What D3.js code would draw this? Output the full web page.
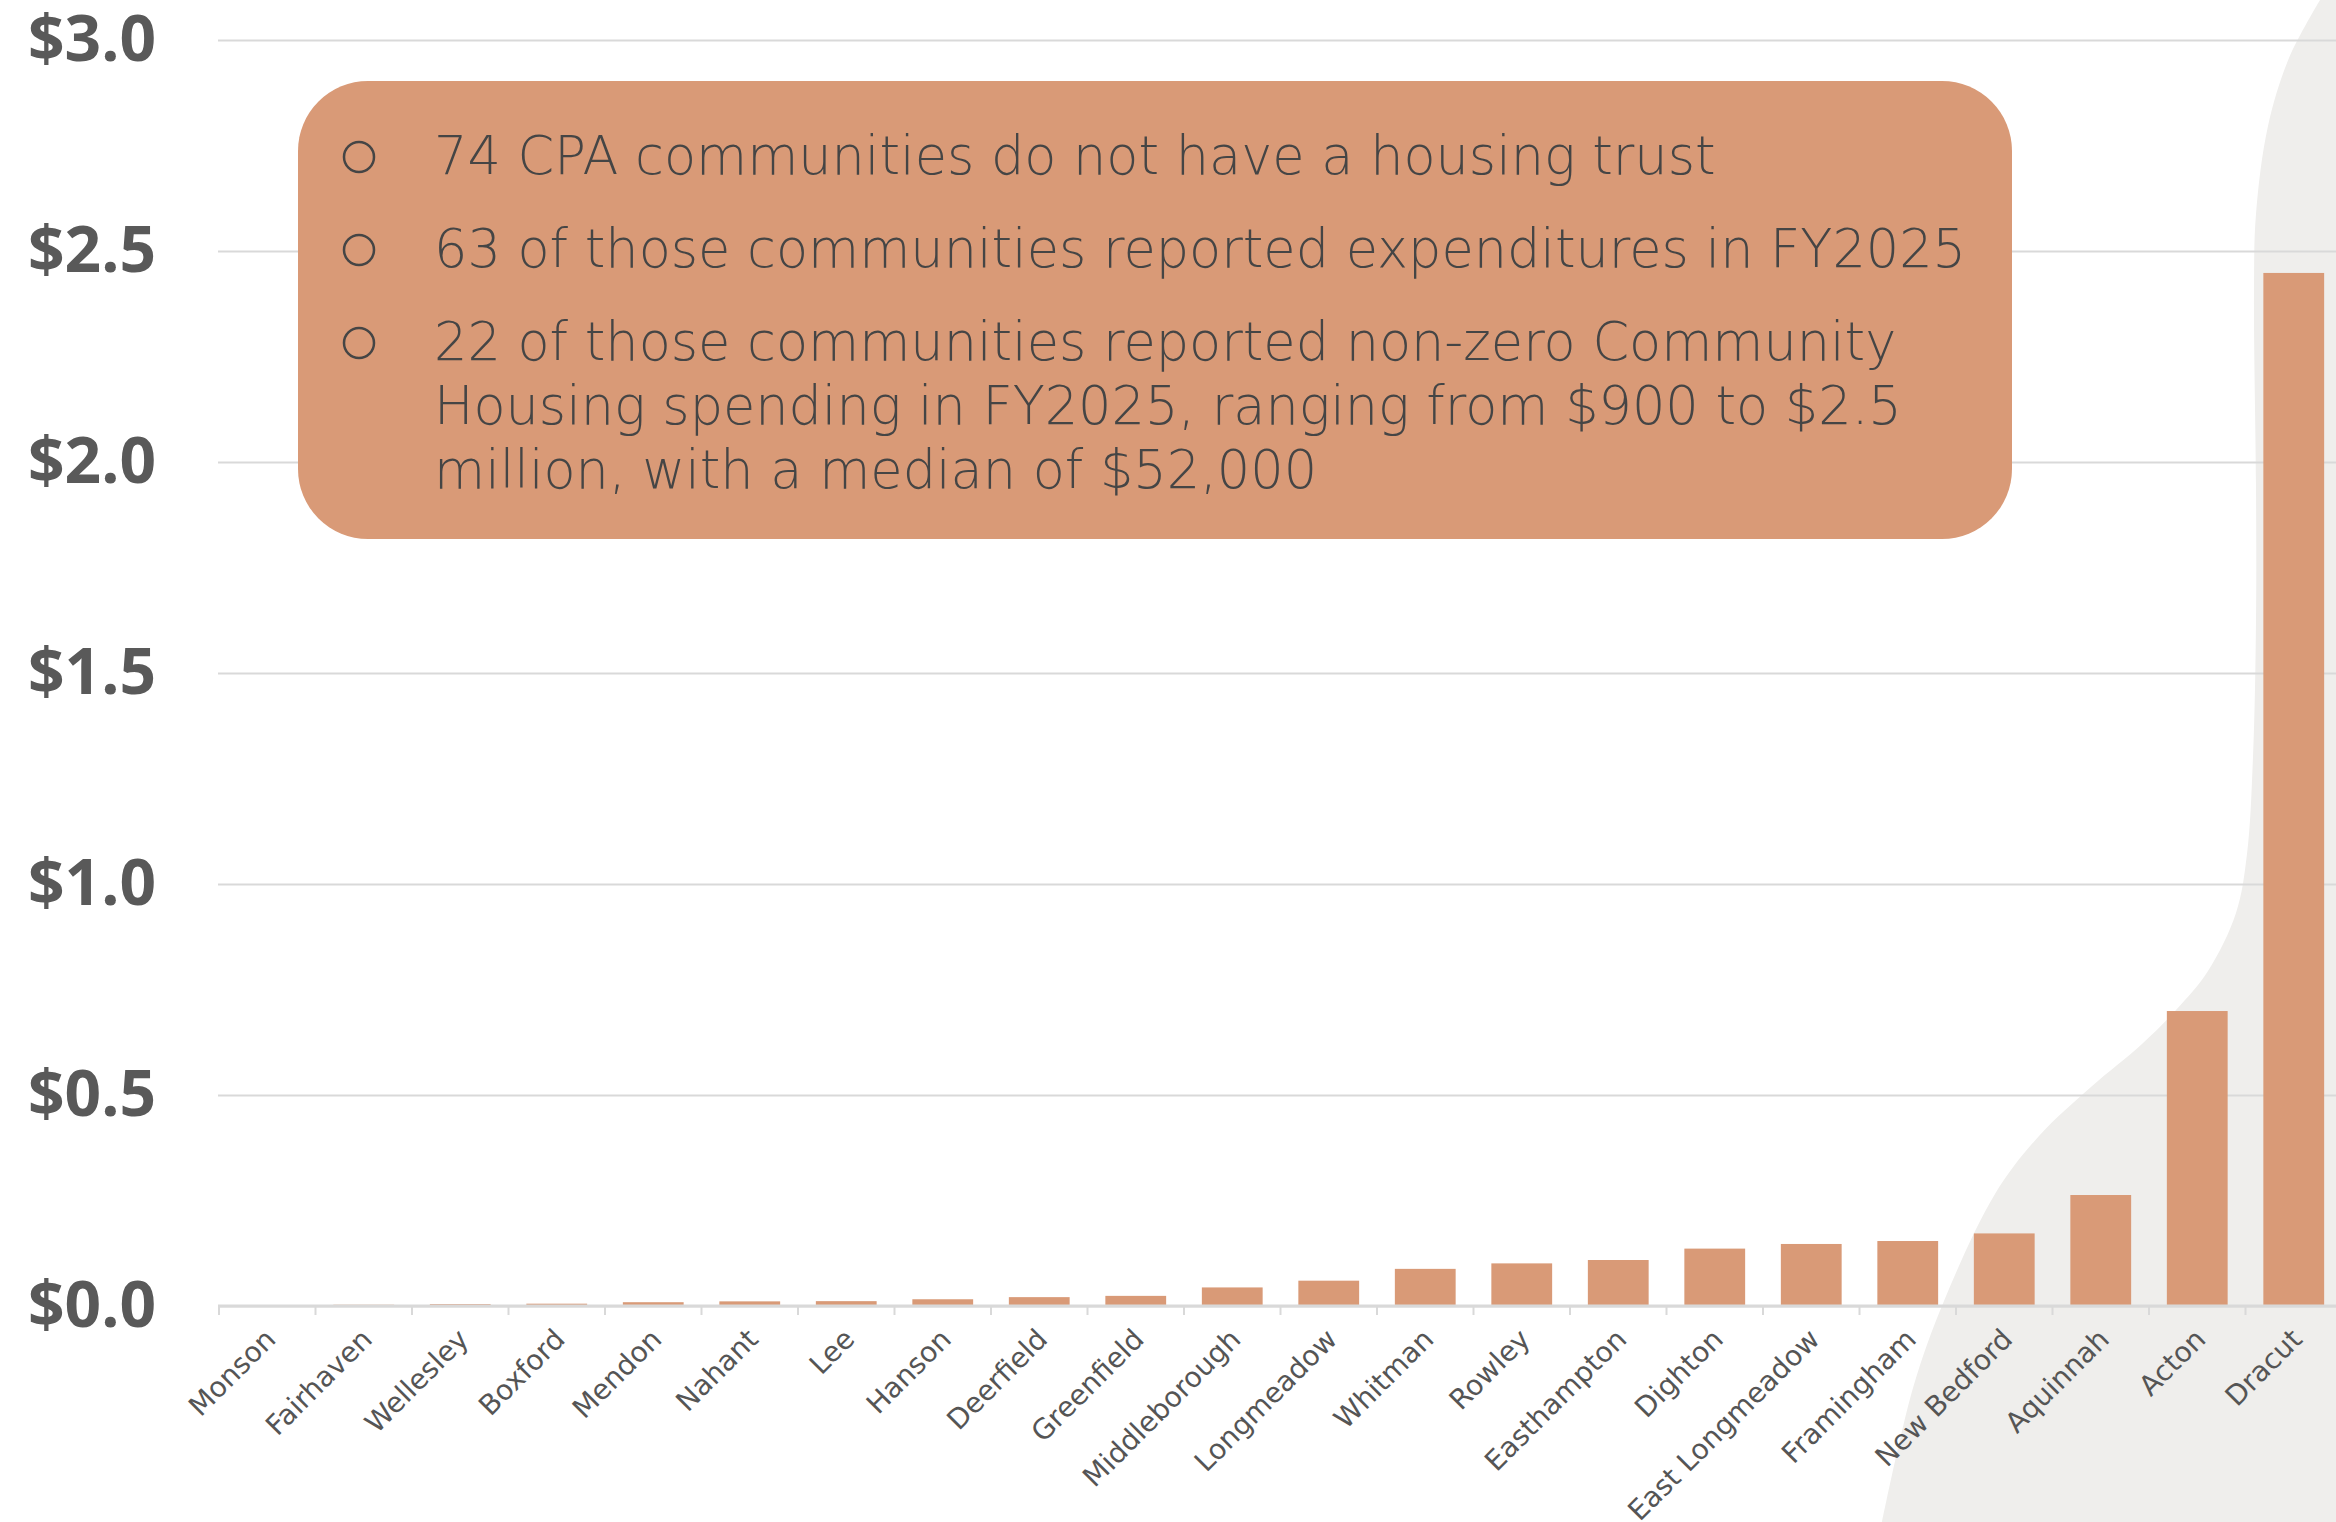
<!DOCTYPE html>
<html>
<head>
<meta charset="utf-8">
<script src="https://cdn.jsdelivr.net/npm/d3@7"></script>
<style>
  body { margin: 0; background: #fff; }
  svg { display: block; }
  .yAxis text { font-family: "Open Sans", sans-serif; font-weight: 700; font-size: 64px; fill: #595959; }
  .xLabel { font-family: "DejaVu Sans", sans-serif; font-size: 28px; fill: #555; }
  .note { font-family: "DejaVu Sans", sans-serif; font-weight: 200; font-size: 52.5px; fill: #454545; }
</style>
</head>
<body>
<div id="chart"></div>
<script>
// towns with non-zero Community Housing spending, FY2025 ($ millions)
const towns = ["Monson", "Fairhaven", "Wellesley", "Boxford", "Mendon", "Nahant", "Lee", "Hanson",
  "Deerfield", "Greenfield", "Middleborough", "Longmeadow", "Whitman", "Rowley", "Easthampton",
  "Dighton", "East Longmeadow", "Framingham", "New Bedford", "Aquinnah", "Acton", "Dracut"];
const spending = [0.0009, 0.003, 0.0045, 0.0055, 0.009, 0.011, 0.0115, 0.016,
  0.021, 0.024, 0.044, 0.060, 0.088, 0.101, 0.109,
  0.136, 0.147, 0.154, 0.172, 0.263, 0.699, 2.448];
const yTicks = [0, 0.5, 1.0, 1.5, 2.0, 2.5, 3.0];

const noteLines = [
  { bullet: true,  text: "74 CPA communities do not have a housing trust" },
  { bullet: true,  text: "63 of those communities reported expenditures in FY2025" },
  { bullet: true,  text: "22 of those communities reported non-zero Community" },
  { bullet: false, text: "Housing spending in FY2025, ranging from $900 to $2.5" },
  { bullet: false, text: "million, with a median of $52,000" }
];

// decorative grey wave in the background (pixel outline)
const wave = [[2320, 0], [2289, 58], [2268, 126], [2256, 214], [2254, 291], [2256, 485],
  [2256, 621], [2253, 757], [2247, 854], [2236, 913], [2208, 971], [2176, 1010],
  [2142, 1044], [2091, 1087], [2039, 1136], [1995, 1194], [1944, 1301], [1913, 1388], [1882, 1522]];

let width = 2336, height = 1522;
let left = 218, baseY = 1306, topY = 40;
let barColor = "#D99A77";

let svg = d3.select("#chart").append("svg")
  .attr("width", width)
  .attr("height", height);

// background wave
let waveLine = d3.line().curve(d3.curveCatmullRom);
svg.append("path")
  .attr("d", waveLine(wave) + "L" + width + "," + height + "L" + width + ",0Z")
  .attr("fill", "#EFEEEC");

let x = d3.scaleBand()
  .domain(towns)
  .range([219, 2342])
  .paddingInner(0.37)
  .paddingOuter(0.185);

let y = d3.scaleLinear()
  .domain([0, 3])
  .range([baseY, topY]);

// gridlines + y labels
let yAxis = d3.axisLeft(y)
  .tickValues(yTicks)
  .tickSize(-(width - left))
  .tickPadding(62)
  .tickFormat(d => "$" + d3.format(".1f")(d));

svg.append("g")
  .attr("class", "yAxis")
  .attr("transform", "translate(" + left + ",0)")
  .call(yAxis)
  .call(g => g.select(".domain").remove())
  .call(g => g.selectAll("line").attr("stroke", "#D9D9D9").attr("stroke-width", 2));

// bars
svg.selectAll(".bar")
  .data(towns)
  .enter()
  .append("rect")
  .attr("class", "bar")
  .attr("x", d => x(d))
  .attr("y", (d, i) => y(spending[i]))
  .attr("width", x.bandwidth())
  .attr("height", (d, i) => baseY - y(spending[i]))
  .attr("fill", barColor);

// x axis: baseline, boundary ticks, rotated labels
let xa = svg.append("g");
xa.append("line")
  .attr("x1", left).attr("x2", width)
  .attr("y1", baseY).attr("y2", baseY)
  .attr("stroke", "#D9D9D9").attr("stroke-width", 3);

xa.selectAll(".tick")
  .data(d3.range(towns.length + 1))
  .enter()
  .append("line")
  .attr("x1", i => x.range()[0] + i * x.step())
  .attr("x2", i => x.range()[0] + i * x.step())
  .attr("y1", baseY)
  .attr("y2", baseY + 9)
  .attr("stroke", "#D9D9D9").attr("stroke-width", 2);

xa.selectAll(".xLabel")
  .data(towns)
  .enter()
  .append("text")
  .attr("class", "xLabel")
  .attr("text-anchor", "end")
  .attr("dy", "0.35em")
  .attr("transform", d => "translate(" + (x(d) + x.bandwidth() / 2 + 3) + "," + (baseY + 28) + ") rotate(-45)")
  .text(d => d);

// note box
let note = svg.append("g");
note.append("rect")
  .attr("x", 298).attr("y", 81)
  .attr("width", 1714).attr("height", 458)
  .attr("rx", 70).attr("ry", 70)
  .attr("fill", barColor);

let lineY = [174, 267, 360, 424, 488];

noteLines.forEach(function(l, i) {
  if (l.bullet) {
    note.append("circle")
      .attr("cx", 359)
      .attr("cy", lineY[i] - 17)
      .attr("r", 15)
      .attr("fill", "none")
      .attr("stroke", "#454545")
      .attr("stroke-width", 2.5);
  }
  note.append("text")
    .attr("class", "note")
    .attr("x", 434)
    .attr("y", lineY[i])
    .text(l.text);
});
</script>
</body>
</html>
